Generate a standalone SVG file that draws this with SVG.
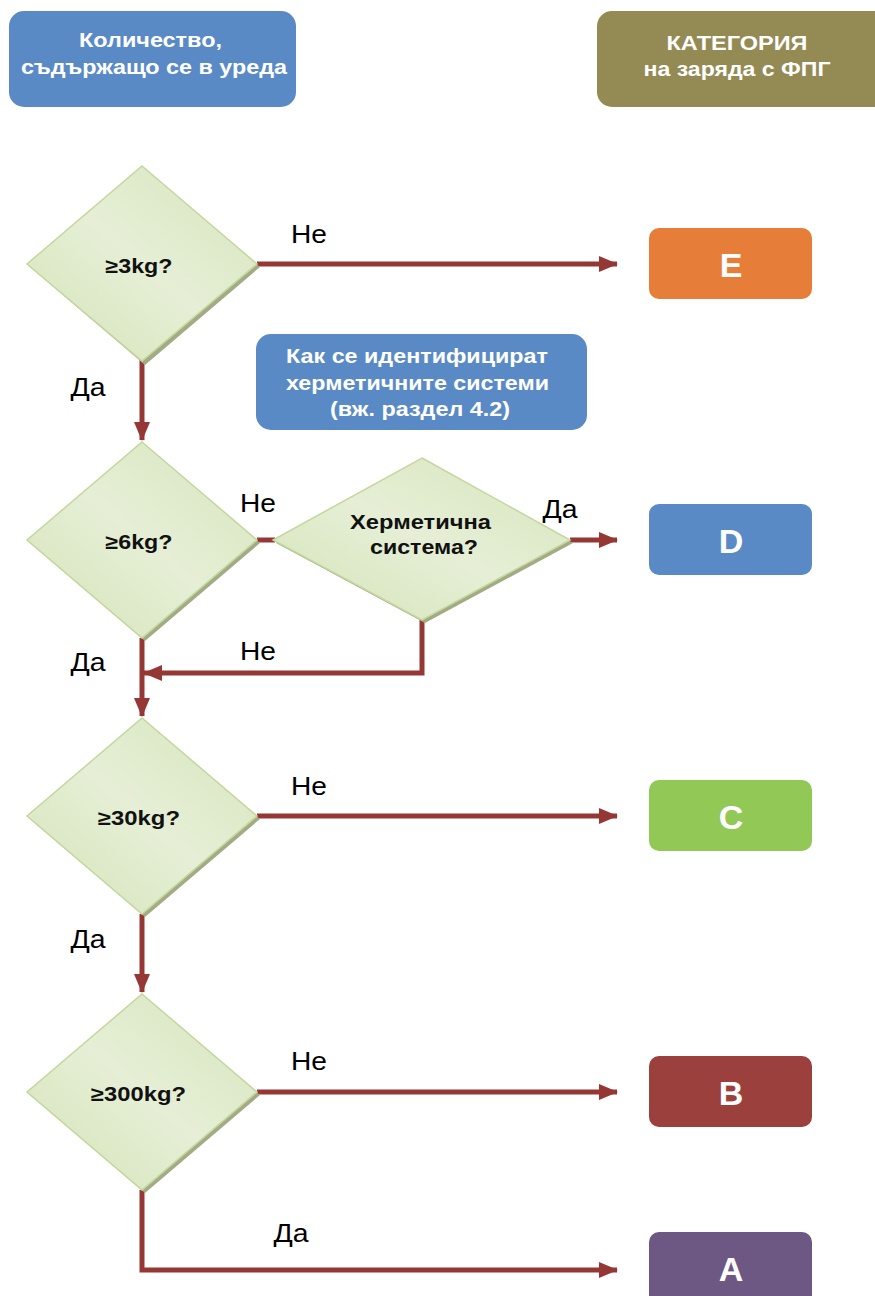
<svg xmlns="http://www.w3.org/2000/svg" width="875" height="1296" viewBox="0 0 875 1296">
<defs>
<linearGradient id="dg" x1="0" y1="1" x2="1" y2="0">
<stop offset="0" stop-color="#d3e2b6"/>
<stop offset="0.5" stop-color="#e6efd6"/>
<stop offset="1" stop-color="#d6e4bb"/>
</linearGradient>
<marker id="ah" markerUnits="userSpaceOnUse" markerWidth="20" markerHeight="16" refX="18" refY="8" orient="auto">
<path d="M0,0 L19,8 L0,16 Z" fill="#953735"/>
</marker>
</defs>
<style>
text{font-family:"Liberation Sans",Arial,sans-serif}
.box text{font-weight:bold;fill:#ffffff;text-anchor:middle}
.hd{font-size:21px}
.cat{font-size:34px}
.dia polygon.f{fill:url(#dg);stroke:#c4d79e;stroke-width:1.5}
.dia polygon.s{fill:#a3ab85}
.dia text{font-weight:bold;font-size:20px;fill:#111;text-anchor:middle}
.conn path{fill:none;stroke:#953735;stroke-width:5}
.lbl{font-size:25px;fill:#000;text-anchor:middle}
</style>

<g id="hdr-left" class="box">
<rect x="9" y="11" width="287" height="96" rx="15" fill="#5a8ac6"/>
<text class="hd" x="150.5" y="47" textLength="143" lengthAdjust="spacingAndGlyphs">Количество,</text>
<text class="hd" x="154" y="74" textLength="266" lengthAdjust="spacingAndGlyphs">съдържащо се в уреда</text>
</g>
<g id="hdr-right" class="box">
<rect x="597" y="11" width="300" height="96" rx="15" fill="#948a54"/>
<text class="hd" x="737" y="50" textLength="141" lengthAdjust="spacingAndGlyphs">КАТЕГОРИЯ</text>
<text class="hd" x="737" y="76" textLength="187" lengthAdjust="spacingAndGlyphs">на заряда с ФПГ</text>
</g>
<g id="info" class="box">
<rect x="256" y="334" width="331" height="96" rx="15" fill="#5a8ac6"/>
<text class="hd" x="417" y="363" textLength="262" lengthAdjust="spacingAndGlyphs">Как се идентифицират</text>
<text class="hd" x="417.5" y="390" textLength="263" lengthAdjust="spacingAndGlyphs">херметичните системи</text>
<text class="hd" x="420" y="416" textLength="180" lengthAdjust="spacingAndGlyphs">(вж. раздел 4.2)</text>
</g>

<g class="conn" id="connectors">
<path d="M257,264 H617" marker-end="url(#ah)"/>
<path d="M142,360 V440" marker-end="url(#ah)"/>
<path d="M257,540 H275"/>
<path d="M570,540 H617" marker-end="url(#ah)"/>
<path d="M422,620 V673 H144" marker-end="url(#ah)"/>
<path d="M142,638 V716" marker-end="url(#ah)"/>
<path d="M257,816 H617" marker-end="url(#ah)"/>
<path d="M142,914 V992" marker-end="url(#ah)"/>
<path d="M257,1092 H617" marker-end="url(#ah)"/>
<path d="M142,1190 V1270 H617" marker-end="url(#ah)"/>
</g>

<g id="labels">
<text class="lbl" x="309" y="243" textLength="36" lengthAdjust="spacingAndGlyphs">Не</text>
<text class="lbl" x="88" y="396" textLength="35" lengthAdjust="spacingAndGlyphs">Да</text>
<text class="lbl" x="258" y="512" textLength="36" lengthAdjust="spacingAndGlyphs">Не</text>
<text class="lbl" x="560" y="518" textLength="35" lengthAdjust="spacingAndGlyphs">Да</text>
<text class="lbl" x="258" y="660" textLength="36" lengthAdjust="spacingAndGlyphs">Не</text>
<text class="lbl" x="88" y="671" textLength="35" lengthAdjust="spacingAndGlyphs">Да</text>
<text class="lbl" x="309" y="795" textLength="36" lengthAdjust="spacingAndGlyphs">Не</text>
<text class="lbl" x="88" y="948" textLength="35" lengthAdjust="spacingAndGlyphs">Да</text>
<text class="lbl" x="309" y="1070" textLength="36" lengthAdjust="spacingAndGlyphs">Не</text>
<text class="lbl" x="291" y="1242" textLength="35" lengthAdjust="spacingAndGlyphs">Да</text>
</g>

<g id="d1" class="dia">
<polygon class="s" points="145,169 260,267 145,365 30,267"/>
<polygon class="f" points="142,166 257,264 142,361 27,264"/>
<text x="139" y="273" textLength="67" lengthAdjust="spacingAndGlyphs">≥3kg?</text>
</g>
<g id="d2" class="dia">
<polygon class="s" points="145,445 260,543 145,641 30,543"/>
<polygon class="f" points="142,442 257,540 142,638 27,540"/>
<text x="139" y="549" textLength="67" lengthAdjust="spacingAndGlyphs">≥6kg?</text>
</g>
<g id="d3" class="dia">
<polygon class="s" points="425,461 573,543 425,623 276,543"/>
<polygon class="f" points="422,458 570,540 422,620 273,540"/>
<text x="420.5" y="529" textLength="141" lengthAdjust="spacingAndGlyphs">Херметична</text>
<text x="424" y="554" textLength="108" lengthAdjust="spacingAndGlyphs">система?</text>
</g>
<g id="d4" class="dia">
<polygon class="s" points="145,721 260,819 145,917 30,819"/>
<polygon class="f" points="142,718 257,816 142,914 27,816"/>
<text x="139" y="825" textLength="82" lengthAdjust="spacingAndGlyphs">≥30kg?</text>
</g>
<g id="d5" class="dia">
<polygon class="s" points="145,997 260,1095 145,1193 30,1095"/>
<polygon class="f" points="142,994 257,1092 142,1190 27,1092"/>
<text x="138.5" y="1101" textLength="95" lengthAdjust="spacingAndGlyphs">≥300kg?</text>
</g>

<g id="catE" class="box">
<rect x="649" y="228" width="163" height="71" rx="10" fill="#e67d38"/>
<text class="cat" x="731" y="277">E</text>
</g>
<g id="catD" class="box">
<rect x="649" y="504" width="163" height="71" rx="10" fill="#5a8ac6"/>
<text class="cat" x="731" y="553">D</text>
</g>
<g id="catC" class="box">
<rect x="649" y="780" width="163" height="71" rx="10" fill="#92c855"/>
<text class="cat" x="731" y="829">C</text>
</g>
<g id="catB" class="box">
<rect x="649" y="1056" width="163" height="71" rx="10" fill="#9b403d"/>
<text class="cat" x="731" y="1105">B</text>
</g>
<g id="catA" class="box">
<rect x="649" y="1232" width="163" height="80" rx="10" fill="#6d5783"/>
<text class="cat" x="731" y="1281">A</text>
</g>
</svg>
